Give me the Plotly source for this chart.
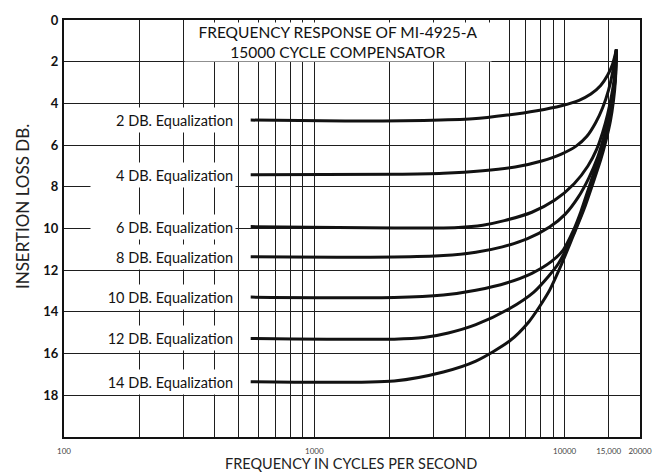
import math
import plotly.graph_objects as go

# Insertion loss of the MI-4925-A compensator, frequency in c/s, loss in dB
freq_2db = [557, 1327, 2736, 4299, 5901, 7740, 9703, 11418, 12726, 13930, 14840, 15527, 16099]
loss_2db = [4.80, 4.85, 4.82, 4.74, 4.56, 4.35, 4.11, 3.85, 3.55, 3.14, 2.65, 2.13, 1.42]

freq_4db = [557, 2086, 3278, 4707, 6343, 8097, 9703, 11112, 12274, 13314, 14184, 14975, 15527, 16099]
loss_4db = [7.42, 7.40, 7.35, 7.23, 7.05, 6.76, 6.43, 6.05, 5.58, 4.92, 4.21, 3.36, 2.55, 1.42]

freq_6db = [557, 2086, 3754, 4707, 5743, 7398, 9107, 10912, 12386, 13435, 14184, 14840, 15387, 15810, 16099]
loss_6db = [9.91, 9.98, 9.95, 9.84, 9.62, 9.22, 8.65, 7.85, 7.00, 6.19, 5.39, 4.54, 3.64, 2.74, 1.42]

freq_8db = [557, 2086, 3278, 4418, 5640, 7071, 8705, 10060, 11315, 12498, 13557, 14313, 14975, 15527, 15954, 16099]
loss_8db = [11.35, 11.37, 11.30, 11.14, 10.88, 10.50, 9.93, 9.31, 8.51, 7.57, 6.57, 5.67, 4.78, 3.83, 2.74, 1.42]

freq_10db = [557, 2086, 3278, 4418, 5901, 7398, 8863, 9880, 10814, 11626, 12498, 13314, 14057, 14706, 15248, 15668, 15954, 16099]
loss_10db = [13.29, 13.31, 13.19, 12.96, 12.60, 12.15, 11.58, 11.02, 10.12, 9.17, 8.04, 7.05, 6.19, 5.30, 4.40, 3.50, 2.55, 1.42]

freq_12db = [557, 2086, 2736, 3430, 4418, 6008, 7533, 8626, 9444, 10430, 11626, 12726, 13804, 14443, 15111, 15527, 15882, 16099]
loss_12db = [15.27, 15.31, 15.23, 15.01, 14.61, 13.85, 13.05, 12.29, 11.68, 10.69, 9.36, 7.94, 6.43, 5.49, 4.49, 3.69, 2.74, 1.42]

freq_14db = [557, 2086, 3278, 4418, 6008, 7200, 8626, 9703, 10814, 11946, 12958, 13930, 14574, 15248, 15668, 15954, 16099]
loss_14db = [17.35, 17.31, 16.88, 16.36, 15.41, 14.47, 13.05, 11.73, 10.36, 9.08, 7.85, 6.71, 5.86, 4.82, 3.88, 2.88, 1.42]

curve_labels = [
    "2 DB. Equalization",
    "4 DB. Equalization",
    "6 DB. Equalization",
    "8 DB. Equalization",
    "10 DB. Equalization",
    "12 DB. Equalization",
    "14 DB. Equalization",
]

# Log grid: every unit step in each decade, plus 15 kc
grid_freqs = [100, 200, 300, 400, 500, 600, 700, 800, 900,
              1000, 2000, 3000, 4000, 5000, 6000, 7000, 8000, 9000,
              10000, 15000, 20000]
freq_labels = {100: "100", 1000: "1000", 10000: "10000", 15000: "15,000", 20000: "20000"}

loss_ticks = [0, 2, 4, 6, 8, 10, 12, 14, 16, 18, 20]
loss_tick_text = ["0", "2", "4", "6", "8", "10", "12", "14", "16", "18", ""]

title_text = "FREQUENCY RESPONSE OF MI-4925-A<br>15000 CYCLE COMPENSATOR"
x_title = "FREQUENCY IN CYCLES PER SECOND"
y_title = "INSERTION LOSS DB."

FONT = "Lato"
INK = "#121212"
GRID = "#1e1e1e"

curves = [
    (freq_2db, loss_2db), (freq_4db, loss_4db), (freq_6db, loss_6db),
    (freq_8db, loss_8db), (freq_10db, loss_10db), (freq_12db, loss_12db),
    (freq_14db, loss_14db),
]

fig = go.Figure()
for f, loss in curves:
    fig.add_trace(go.Scatter(
        x=f, y=loss, mode="lines",
        line=dict(color=INK, width=3, shape="spline", smoothing=0.7),
        hoverinfo="skip", showlegend=False,
    ))

fig.update_xaxes(
    type="log", range=[2, math.log10(20000)],
    tickvals=grid_freqs,
    ticktext=[freq_labels.get(v, "") for v in grid_freqs],
    tickfont=dict(family=FONT, size=8, color="#444"),
    ticks="", ticklabelstandoff=5,
    showgrid=True, gridcolor=GRID, gridwidth=1.4,
    showline=True, linecolor=INK, linewidth=2, mirror=True,
    zeroline=False,
)
fig.update_yaxes(
    range=[20, 0],
    tickvals=loss_ticks, ticktext=loss_tick_text,
    tickfont=dict(family=FONT, size=13, color=INK, weight="bold"),
    ticks="", ticklabelstandoff=1,
    showgrid=True, gridcolor=GRID, gridwidth=1.4,
    showline=True, linecolor=INK, linewidth=2, mirror=True,
    zeroline=False,
)

annotations = []
# curve captions in white boxes, right-aligned just left of 500 c/s
label_x = 2 + 175 / 254.67
for text, (f, loss) in zip(curve_labels, curves):
    annotations.append(dict(
        x=label_x, xref="x", y=loss[0], yref="y",
        xanchor="right", yanchor="middle",
        text=text, showarrow=False, align="right",
        width=140, height=20, borderpad=2, bgcolor="white",
        font=dict(family=FONT, size=14.5, color=INK),
    ))

# title panel
annotations.append(dict(
    x=0.4761, xref="paper", y=1.04, yref="y",
    xanchor="center", yanchor="middle",
    text=title_text, showarrow=False, align="center",
    width=306, height=38, borderpad=0, bgcolor="white",
    font=dict(family=FONT, size=15.5, color=INK),
))

annotations.append(dict(
    x=-0.0717, xref="paper", y=0.553, yref="paper",
    xanchor="center", yanchor="middle", textangle=-90,
    text=y_title, showarrow=False,
    font=dict(family=FONT, size=17, color="#222"),
))
annotations.append(dict(
    x=0.498, xref="paper", y=-0.0638, yref="paper",
    xanchor="center", yanchor="middle",
    text=x_title, showarrow=False, borderpad=0,
    font=dict(family=FONT, size=14.5, color="#222"),
))

fig.update_layout(
    width=664, height=472,
    margin=dict(l=64, r=14, t=14, b=35),
    paper_bgcolor="white", plot_bgcolor="white",
    annotations=annotations,
)

fig.write_html("out.html")
